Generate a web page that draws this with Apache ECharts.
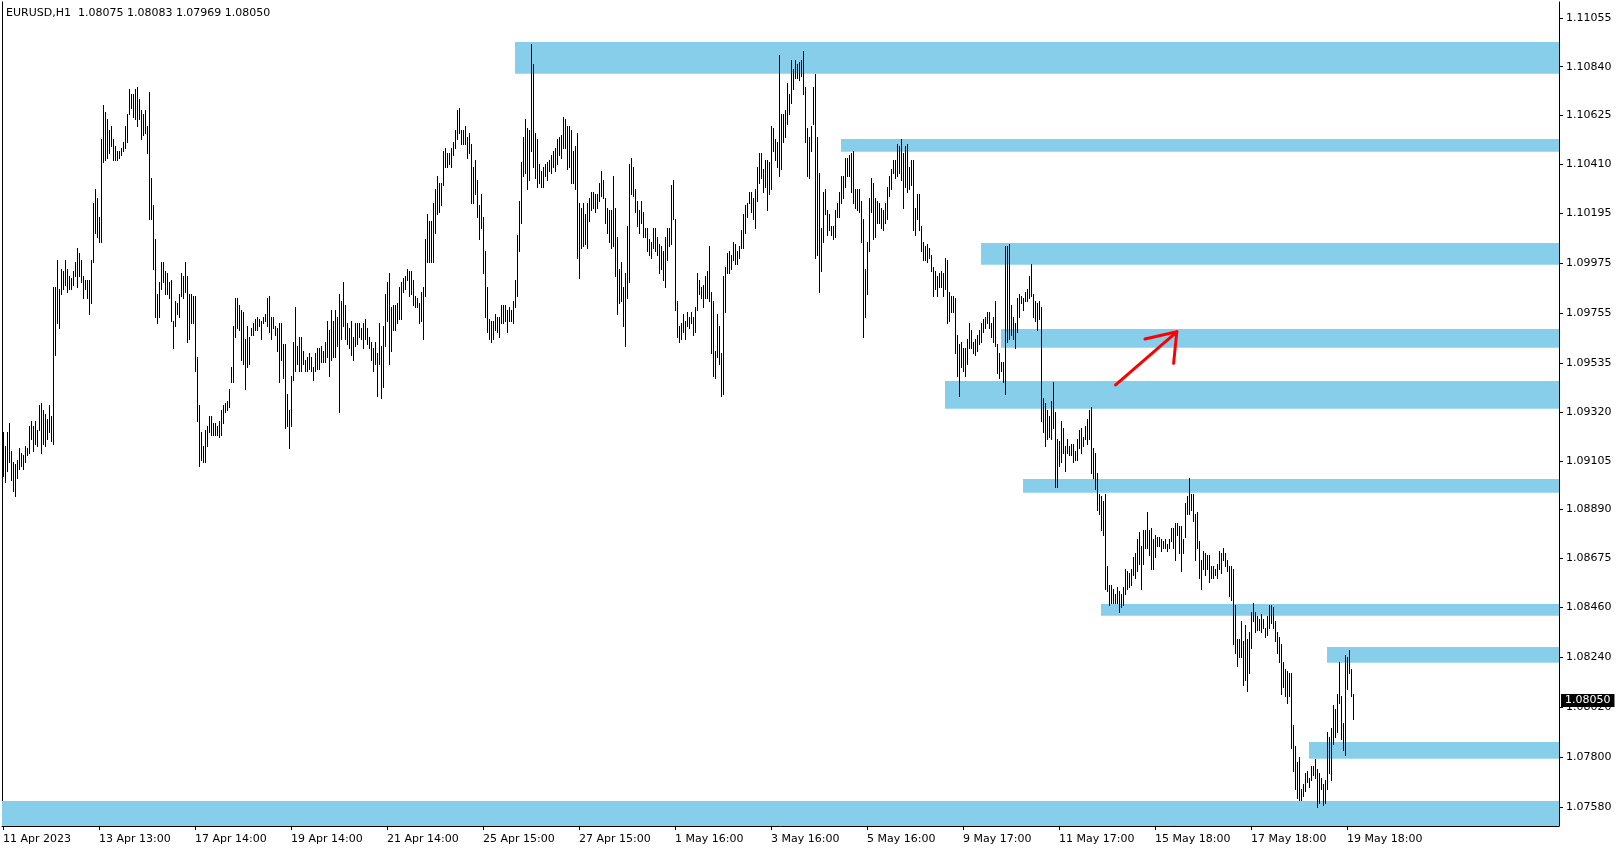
<!DOCTYPE html>
<html><head><meta charset="utf-8">
<script src="https://cdn.jsdelivr.net/npm/echarts@6/dist/echarts.min.js"></script>
<style>html,body{margin:0;padding:0;background:#fff;}#c{width:1624px;height:850px;}</style>
</head><body><div id="c"></div>
<script>
// ---- data ----
const chartTitle = 'EURUSD,H1  1.08075 1.08083 1.07969 1.08050';
const BASE = 1.07, PIP = 0.0001;   // bar values below are pips above 1.0700
const highs = [
223,217,223,227,215,210,209,211,216,214,213,217,216,226,228,226,228,224,235,236,233,231,229,235,230,287,287,299,286,295,294,299,295,292,291,294,298,304,302,299,292,290,290,290,299,324,330,326,318,352,367,364,361,356,358,352,349,347,347,348,351,358,363,374,372,372,374,375,370,365,363,365,358,373,335,323,308,284,289,298,298,294,293,289,
290,272,281,280,284,293,292,298,292,284,284,283,283,256,235,223,217,224,226,230,230,227,227,226,228,233,235,236,237,242,252,270,282,282,279,277,276,264,270,265,269,271,273,274,273,272,274,275,282,283,274,274,270,269,271,271,262,262,240,233,248,263,278,261,265,265,259,255,256,258,256,252,258,260,260,261,259,263,272,268,277,272,277,274,284,
281,289,279,271,269,272,265,271,271,271,269,271,273,269,265,263,260,263,258,271,261,270,284,289,293,278,279,279,280,287,289,291,292,295,294,294,290,283,282,280,285,287,308,319,316,316,324,330,336,333,333,347,348,346,346,348,351,356,365,366,356,356,358,353,355,350,340,343,334,323,328,318,303,287,273,272,272,275,274,274,279,279,279,277,278,
277,281,290,310,325,342,353,361,357,356,394,385,355,352,341,338,340,341,342,343,345,347,348,352,353,354,362,361,358,358,356,347,349,355,324,322,324,319,324,326,329,329,328,328,333,338,334,326,322,321,321,336,322,309,295,298,287,293,314,341,344,340,330,325,321,325,320,313,313,308,307,313,313,309,306,305,303,309,313,313,332,334,317,281,270,
271,275,272,276,274,276,274,278,293,290,287,288,292,294,305,285,281,259,275,270,258,292,296,302,303,301,307,306,303,305,312,319,323,324,329,329,326,330,340,346,346,339,343,343,342,358,357,352,351,389,363,363,365,377,372,387,383,387,385,386,387,391,375,357,353,358,375,381,353,337,313,329,330,321,319,314,314,321,324,329,336,336,344,344,345,
346,347,330,330,330,325,317,295,307,326,335,333,326,325,324,322,321,324,331,336,339,343,343,350,349,352,346,349,350,340,343,343,322,328,328,314,307,305,306,304,301,296,294,292,293,294,293,300,299,285,283,283,282,266,262,263,260,260,264,271,268,263,264,266,268,271,273,274,276,276,271,274,281,262,258,254,254,305,305,306,279,274,271,282,284,
283,282,285,286,292,297,284,281,280,281,278,238,236,233,230,237,245,232,220,219,228,225,217,220,217,218,218,215,220,224,225,221,226,229,233,234,216,214,205,196,195,193,196,164,156,156,154,152,155,153,152,155,163,162,161,163,168,170,176,179,173,180,180,188,180,181,176,178,177,177,176,175,176,174,176,181,181,183,183,182,182,176,192,195,203,
196,196,187,188,175,167,171,170,169,169,164,164,163,165,171,170,172,170,167,164,164,163,147,132,132,140,131,138,132,135,144,148,144,142,141,143,141,137,142,147,147,146,140,135,133,130,122,119,118,117,117,94,85,78,80,66,68,73,74,71,76,76,79,75,73,71,68,70,91,89,93,103,101,108,122,107,95,125,124,127,119,108
];
const lows = [
204,201,206,210,202,197,195,203,207,208,207,210,213,214,220,215,218,217,224,214,218,217,220,223,219,218,257,271,269,284,286,288,285,286,286,288,292,287,292,289,282,286,282,275,280,298,311,309,307,307,342,343,344,346,349,343,343,343,344,345,347,348,351,363,366,362,361,358,361,352,354,355,346,317,317,295,274,271,274,286,289,284,284,282,
272,260,270,275,274,283,282,285,263,264,271,271,250,228,208,211,210,210,217,223,222,222,222,222,221,222,227,232,233,234,245,245,265,269,268,255,253,242,252,253,266,266,268,268,270,264,271,272,270,267,264,269,266,259,245,255,247,225,226,216,226,246,250,253,250,250,253,250,250,251,250,246,250,251,251,254,254,254,256,248,255,256,256,261,232,
264,270,264,262,260,257,255,261,262,265,264,260,264,262,260,255,250,253,239,253,238,243,261,272,253,259,268,268,271,273,273,285,286,290,283,284,279,278,278,271,272,264,283,298,298,298,298,311,319,320,323,332,340,340,341,340,345,348,352,355,350,350,350,344,346,324,324,328,318,308,313,293,274,267,264,263,264,268,267,265,271,271,272,267,272,
272,271,278,283,303,315,336,337,330,334,347,340,335,331,333,331,331,336,334,338,337,340,338,341,345,344,348,348,339,340,333,333,330,300,291,304,305,306,304,316,321,322,320,322,325,327,326,315,311,307,304,305,292,275,280,281,270,261,282,289,328,327,320,314,311,315,309,309,303,301,300,304,303,301,293,295,290,287,299,305,306,317,277,265,263,
264,267,264,270,269,271,266,267,277,284,282,278,282,282,281,258,248,247,256,253,239,240,276,293,293,295,299,297,297,300,304,304,311,318,324,320,317,313,325,333,335,329,331,321,328,330,347,343,340,336,339,351,353,359,363,368,374,379,379,378,380,372,351,336,335,347,359,300,301,285,294,307,319,310,312,310,308,309,318,318,324,326,331,336,336,
329,324,322,321,320,307,265,274,284,303,320,308,309,315,315,313,312,315,317,327,330,337,335,336,337,334,322,331,329,330,332,312,310,317,312,303,299,299,298,300,294,283,286,283,287,287,283,286,271,272,276,276,258,248,239,252,250,248,253,260,260,258,257,259,262,263,267,269,271,269,265,263,261,249,247,250,245,240,263,264,266,264,260,267,274,
280,277,281,281,282,283,274,272,268,273,228,223,217,220,221,220,225,199,199,208,210,214,206,214,213,213,210,211,211,216,214,217,220,218,220,205,203,198,189,187,180,178,154,153,147,148,148,148,148,144,146,147,152,154,155,156,160,159,162,165,154,165,172,172,169,163,163,168,173,173,171,172,172,171,172,175,172,167,178,170,162,170,177,187,187,
189,184,167,172,159,154,163,160,163,157,159,159,160,159,163,161,167,164,162,151,149,130,126,120,124,124,112,114,109,117,128,140,135,136,136,135,137,133,134,137,139,137,131,126,122,108,111,107,104,107,84,74,66,62,61,61,63,65,69,67,70,72,71,58,60,66,59,60,66,73,70,86,89,91,104,88,83,81,110,117,107,97
];
const timeLabels = ['11 Apr 2023','13 Apr 13:00','17 Apr 14:00','19 Apr 14:00','21 Apr 14:00','25 Apr 15:00','27 Apr 15:00','1 May 16:00','3 May 16:00','5 May 16:00','9 May 17:00','11 May 17:00','15 May 18:00','17 May 18:00','19 May 18:00'];
const timeLabelBars = [0,48,96,144,192,240,288,336,384,432,480,528,576,624,672];
const priceTicks = [1.11055,1.10840,1.10625,1.10410,1.10195,1.09975,1.09755,1.09535,1.09320,1.09105,1.08890,1.08675,1.08460,1.08240,1.08020,1.07800,1.07580];
const lastPrice = 1.08050;
// support / resistance zones: starting bar, upper and lower price
const zoneStart = [256,419,489,499,471,510,549,662,653,-0.5];
const zoneUpper = [1.10949,1.10522,1.10064,1.09685,1.09456,1.09025,1.08474,1.08285,1.07867,1.07607];
const zoneLower = [1.10809,1.10466,1.09968,1.09603,1.09334,1.08964,1.08423,1.08216,1.07793,1.07497];
// hand-drawn arrow (bar index, price)
const arrowShaft = [[556.3,1.09439],[586.9,1.09673]];
const arrowHead = [[571,1.09641],[586.9,1.09673],[585.3,1.09534]];

// ---- chart ----
const X_MIN = -0.5, X_MAX = 778, Y_MIN = 1.07497, Y_MAX = 1.11125;
const FONT = 'DejaVu Sans';
const bars = highs.map((h, i) => [i, BASE + h * PIP, BASE + lows[i] * PIP]);
const zones = zoneStart.map((s, k) => [
  {xAxis: s, yAxis: zoneUpper[k]},
  {xAxis: X_MAX, yAxis: zoneLower[k]}
]);

const chart = echarts.init(document.getElementById('c'), null, {renderer: 'canvas'});
chart.setOption({
  animation: false,
  backgroundColor: '#ffffff',
  title: {
    text: chartTitle, left: 6, top: 8, padding: 0,
    textStyle: {fontFamily: FONT, fontSize: 11, fontWeight: 'normal', color: '#000'}
  },
  grid: {left: 2, right: 65, top: 2, bottom: 24, containLabel: false},
  xAxis: {
    type: 'value', min: X_MIN, max: X_MAX,
    axisLine: {show: true, onZero: false, lineStyle: {color: '#000', width: 1}},
    axisTick: {show: true, length: 4, customValues: timeLabelBars, lineStyle: {color: '#000'}},
    axisLabel: {
      show: true, customValues: timeLabelBars, align: 'left', margin: 8,
      fontFamily: FONT, fontSize: 11, color: '#000', hideOverlap: false,
      formatter: v => { const k = timeLabelBars.indexOf(Math.round(v)); return k >= 0 ? timeLabels[k] : ''; }
    },
    splitLine: {show: false}
  },
  yAxis: [{
    type: 'value', position: 'right', min: Y_MIN, max: Y_MAX, scale: true, z: 1,
    axisLine: {show: true, onZero: false, lineStyle: {color: '#000', width: 1}},
    axisTick: {show: true, length: 4, customValues: priceTicks, lineStyle: {color: '#000'}},
    axisLabel: {
      show: true, customValues: priceTicks, margin: 7,
      fontFamily: FONT, fontSize: 11, color: '#000',
      formatter: v => v.toFixed(5)
    },
    splitLine: {show: false}
  }, {
    type: 'value', position: 'left', min: Y_MIN, max: Y_MAX, scale: true,
    axisLine: {show: true, onZero: false, lineStyle: {color: '#000', width: 1}},
    axisTick: {show: false}, axisLabel: {show: false}, splitLine: {show: false}
  }, {
    // current price tag
    type: 'value', position: 'right', min: Y_MIN, max: Y_MAX, scale: true, z: 10,
    axisLine: {show: false}, axisTick: {show: false}, splitLine: {show: false},
    axisLabel: {
      show: true, customValues: [lastPrice], margin: 2,
      fontFamily: FONT, fontSize: 11, color: '#fff', backgroundColor: '#000',
      padding: [1, 4, 0, 4], lineHeight: 12,
      formatter: v => v.toFixed(5)
    }
  }],
  series: [{
    type: 'custom', name: 'EURUSD,H1', z: 3,
    data: bars, encode: {x: 0, y: [1, 2]},
    renderItem: (params, api) => {
      const pH = api.coord([api.value(0), api.value(1)]);
      const pL = api.coord([api.value(0), api.value(2)]);
      const x = Math.round(pH[0]);
      const top = Math.round(pH[1]);
      const bot = Math.round(pL[1]);
      return {type: 'rect', shape: {x: x, y: top, width: 1, height: Math.max(1, bot - top + 1)},
              style: {fill: '#000'}};
    },
    markArea: {silent: true, itemStyle: {color: '#87CEEB', opacity: 1}, label: {show: false}, data: zones}
  }, {
    type: 'lines', coordinateSystem: 'cartesian2d', polyline: true, z: 6, silent: true,
    lineStyle: {color: '#ff0000', width: 3, opacity: 1, cap: 'round', join: 'round'},
    data: [{coords: arrowShaft}, {coords: arrowHead}]
  }]
});
</script></body></html>
